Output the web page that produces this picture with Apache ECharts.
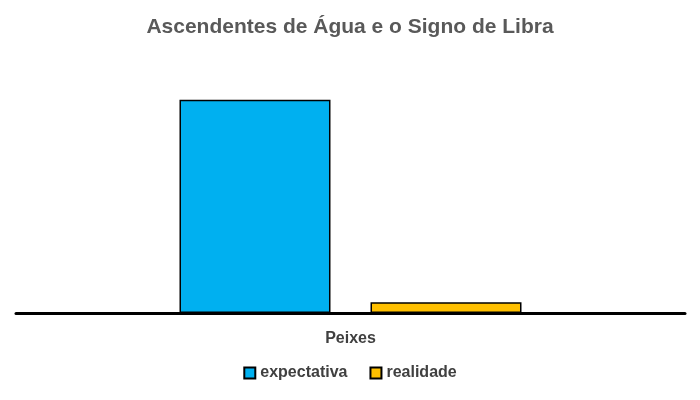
<!DOCTYPE html>
<html><head><meta charset="utf-8">
<script src="https://cdn.jsdelivr.net/npm/echarts@6/dist/echarts.min.js"></script>
<style>html,body{margin:0;padding:0;background:#fff}#c{width:700px;height:400px}</style>
</head><body><div id="c"></div>
<script>
const categories = ["Peixes"];
const expectativa = [100];
const realidade = [5];
const chart = echarts.init(document.getElementById('c'));
chart.setOption({
  animation:false,
  title:{text:"Ascendentes de Água e o Signo de Libra",left:'center',top:12,
    textStyle:{color:'#595959',fontSize:21,fontWeight:'bold',fontFamily:'Liberation Sans, Arial'}},
  legend:{bottom:14,itemWidth:11,itemHeight:11,itemGap:22,icon:'rect',
    textStyle:{color:'#404040',fontSize:16,fontFamily:'Liberation Sans, Arial',fontWeight:'bold'},
    data:['expectativa','realidade']},
  grid:{left:16,right:15,top:57,bottom:87},
  xAxis:{type:'category',data:categories,axisTick:{show:false},
    axisLine:{lineStyle:{color:'#000',width:3}},
    axisLabel:{color:'#404040',fontSize:16,fontWeight:'bold',margin:18,fontFamily:'Liberation Sans, Arial'}},
  yAxis:{type:'value',min:0,max:120,show:false,splitLine:{show:false}},
  series:[
    {name:'expectativa',type:'bar',data:expectativa,barWidth:151,barGap:'26.5%',
     itemStyle:{color:'#00B0F0',borderColor:'#000',borderWidth:1.5}},
    {name:'realidade',type:'bar',data:realidade,barWidth:151,
     itemStyle:{color:'#FFC000',borderColor:'#000',borderWidth:1.5}}
  ]
});
</script></body></html>
